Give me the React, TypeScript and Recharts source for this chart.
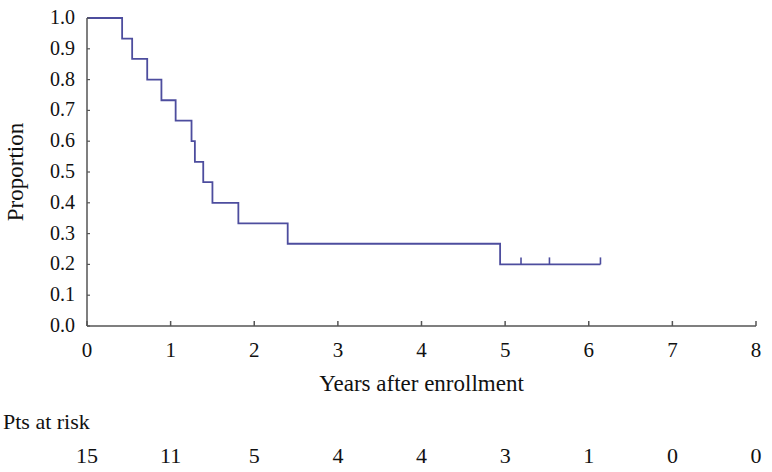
import { ComposedChart, Line, XAxis, YAxis, Label } from "recharts";

// Kaplan-Meier step points (years, proportion)
const times = [0, 0.42, 0.54, 0.72, 0.89, 1.06, 1.25, 1.29, 1.39, 1.5, 1.81, 2.4, 4.94, 5.19, 5.53, 6.14];
const survival = [1, 0.933, 0.867, 0.8, 0.733, 0.667, 0.6, 0.533, 0.467, 0.4, 0.333, 0.267, 0.2, 0.2, 0.2, 0.2];
const censored = [5.19, 5.53, 6.14];

const xTicks = [0, 1, 2, 3, 4, 5, 6, 7, 8];
const atRisk = [15, 11, 5, 4, 4, 3, 1, 0, 0];
const yTicks = [0, 0.1, 0.2, 0.3, 0.4, 0.5, 0.6, 0.7, 0.8, 0.9, 1.0];

const data = times.map((t, i) => ({ t, s: survival[i] }));

const FONT = "Liberation Serif, Times New Roman, serif";
const AXIS = "#555555";
const LINE = "#4d4d9e";

const txt = (size: number) => ({ fontFamily: FONT, fontSize: size, fill: "#111" });

function XTick(props: any) {
  const { x, y, payload, index } = props;
  return (
    <g>
      <line x1={x} x2={x} y1={y} y2={y - 5} stroke={AXIS} strokeWidth={1.5} />
      <text x={x} y={y + 31} textAnchor="middle" style={txt(21)}>
        {payload.value}
      </text>
      <text x={x} y={y + 137} textAnchor="middle" style={txt(22)}>
        {atRisk[index]}
      </text>
    </g>
  );
}

function YTick(props: any) {
  const { x, y, payload } = props;
  return (
    <g>
      <line x1={x} x2={x + 3} y1={y} y2={y} stroke={AXIS} strokeWidth={1.2} />
      <text x={x - 12} y={y + 6} textAnchor="end" style={txt(20)}>
        {payload.value.toFixed(1)}
      </text>
    </g>
  );
}

function CensorDot(props: any) {
  const { cx, cy, payload } = props;
  if (!censored.includes(payload.t)) return <g key={payload.t} />;
  return <line key={payload.t} x1={cx} x2={cx} y1={cy} y2={cy - 7} stroke={LINE} strokeWidth={1.6} />;
}

export default function App() {
  return (
    <div style={{ position: "absolute", left: 0, top: 0, background: "#fff", fontFamily: FONT }}>
      <ComposedChart width={772} height={472} data={data} margin={{ top: 18, right: 16, bottom: 0, left: 0 }}>
        <XAxis
          dataKey="t"
          type="number"
          domain={[0, 8]}
          ticks={xTicks}
          height={146}
          tickLine={false}
          tickSize={0}
          tickMargin={0}
          interval={0}
          axisLine={{ stroke: AXIS, strokeWidth: 1.5 }}
          tick={<XTick />}
        >
          <Label
            content={({ viewBox }: any) => (
              <text x={viewBox.x + viewBox.width / 2} y={viewBox.y + 65} textAnchor="middle" style={txt(23)}>
                Years after enrollment
              </text>
            )}
          />
          <Label
            content={({ viewBox }: any) => (
              <text x={3} y={viewBox.y + 103} style={txt(22)}>
                Pts at risk
              </text>
            )}
          />
        </XAxis>
        <YAxis
          dataKey="s"
          type="number"
          domain={[0, 1]}
          ticks={yTicks}
          width={87}
          tickLine={false}
          tickSize={0}
          tickMargin={0}
          interval={0}
          axisLine={{ stroke: AXIS, strokeWidth: 1.5 }}
          tick={<YTick />}
        >
          <Label
            content={({ viewBox }: any) => {
              const cy = viewBox.y + viewBox.height / 2;
              return (
                <text x={23} y={cy} transform={`rotate(-90 23 ${cy})`} textAnchor="middle" style={txt(23)}>
                  Proportion
                </text>
              );
            }}
          />
        </YAxis>
        <Line
          type="stepAfter"
          dataKey="s"
          stroke={LINE}
          strokeWidth={1.8}
          dot={<CensorDot />}
          activeDot={false}
          isAnimationActive={false}
        />
      </ComposedChart>
    </div>
  );
}
